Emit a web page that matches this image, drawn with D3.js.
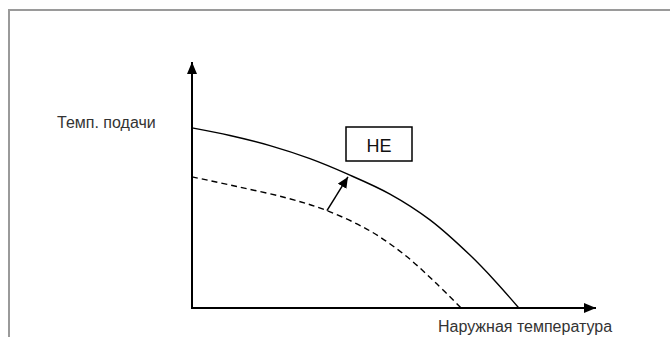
<!DOCTYPE html>
<html>
<head>
<meta charset="utf-8">
<script src="https://cdn.jsdelivr.net/npm/d3@7"></script>
<style>
  body { margin: 0; background: #fff; }
  svg { display: block; }
</style>
</head>
<body>
<div id="chart"></div>
<script>
// Curve data (abstract units: outdoor temp 0..100, flow temp 0..100)
const heCurve = [
  {x: 0, y: 73.2}, {x: 9.4, y: 70.1}, {x: 19.3, y: 66.0}, {x: 29.2, y: 60.7},
  {x: 38.4, y: 54.5}, {x: 49.0, y: 46.3}, {x: 58.9, y: 35.8}, {x: 68.8, y: 21.5},
  {x: 75.0, y: 11.0}, {x: 80.9, y: 0}
];
const baseCurve = [
  {x: 0, y: 53.3}, {x: 11.1, y: 49.4}, {x: 23.5, y: 44.7}, {x: 33.4, y: 39.6},
  {x: 44.1, y: 31.3}, {x: 52.7, y: 21.5}, {x: 60.1, y: 10.6}, {x: 66.6, y: 0}
];
const shiftArrow = {from: {x: 33.4, y: 39.6}, to: {x: 38.6, y: 53.3}};
const heLabel = "HE";
const yLabel = "Темп. подачи";
const xLabel = "Наружная температура";

const width = 670, height = 337;
const svg = d3.select("#chart").append("svg")
  .attr("width", width)
  .attr("height", height);

// Page frame
svg.append("path")
  .attr("d", "M9,337 V10 H670")
  .attr("fill", "none")
  .attr("stroke", "#9a9a9a")
  .attr("stroke-width", 2);

// Scales
const x = d3.scaleLinear().domain([0, 100]).range([192, 596]);
const y = d3.scaleLinear().domain([0, 100]).range([308, 62]);

// Arrow markers
const defs = svg.append("defs");
defs.append("marker")
  .attr("id", "axisHead")
  .attr("viewBox", "0 0 12 10")
  .attr("refX", 12).attr("refY", 5)
  .attr("markerUnits", "userSpaceOnUse")
  .attr("markerWidth", 12).attr("markerHeight", 10)
  .attr("orient", "auto")
  .append("path").attr("d", "M0,0 L12,5 L0,10 Z").attr("fill", "#000");
defs.append("marker")
  .attr("id", "smallHead")
  .attr("viewBox", "0 0 11 10")
  .attr("refX", 11).attr("refY", 5)
  .attr("markerUnits", "userSpaceOnUse")
  .attr("markerWidth", 11).attr("markerHeight", 10)
  .attr("orient", "auto")
  .append("path").attr("d", "M0,0 L11,5 L0,10 Z").attr("fill", "#000");

// Axes
svg.append("line")
  .attr("x1", x(0)).attr("y1", y(0))
  .attr("x2", x(0)).attr("y2", y(100))
  .attr("stroke", "#000").attr("stroke-width", 2)
  .attr("marker-end", "url(#axisHead)");
svg.append("line")
  .attr("x1", x(0) - 1).attr("y1", y(0))
  .attr("x2", x(100)).attr("y2", y(0))
  .attr("stroke", "#000").attr("stroke-width", 2)
  .attr("marker-end", "url(#axisHead)");

// Curves
const line = d3.line()
  .x(d => x(d.x))
  .y(d => y(d.y))
  .curve(d3.curveCatmullRom.alpha(0.5));

svg.append("path")
  .datum(baseCurve)
  .attr("d", line)
  .attr("fill", "none")
  .attr("stroke", "#000")
  .attr("stroke-width", 1.4)
  .attr("stroke-dasharray", "6,4");

svg.append("path")
  .datum(heCurve)
  .attr("d", line)
  .attr("fill", "none")
  .attr("stroke", "#000")
  .attr("stroke-width", 1.4);

// Shift arrow
svg.append("line")
  .attr("x1", x(shiftArrow.from.x)).attr("y1", y(shiftArrow.from.y))
  .attr("x2", x(shiftArrow.to.x)).attr("y2", y(shiftArrow.to.y))
  .attr("stroke", "#000").attr("stroke-width", 1.5)
  .attr("marker-end", "url(#smallHead)");

// HE box
svg.append("rect")
  .attr("x", 346).attr("y", 127)
  .attr("width", 66).attr("height", 34)
  .attr("fill", "#fff")
  .attr("stroke", "#000")
  .attr("stroke-width", 1.5);
svg.append("text")
  .attr("x", 379).attr("y", 152)
  .attr("text-anchor", "middle")
  .style("font-family", "Liberation Sans, Arial, sans-serif")
  .style("font-size", "18px")
  .attr("fill", "#111")
  .text(heLabel);

// Axis labels
svg.append("text")
  .attr("x", 57).attr("y", 128)
  .style("font-family", "Liberation Sans, Arial, sans-serif")
  .style("font-size", "16px")
  .attr("fill", "#333")
  .text(yLabel);

svg.append("text")
  .attr("x", 438).attr("y", 332)
  .style("font-family", "Liberation Sans, Arial, sans-serif")
  .style("font-size", "16px")
  .attr("fill", "#333")
  .text(xLabel);
</script>
</body>
</html>
